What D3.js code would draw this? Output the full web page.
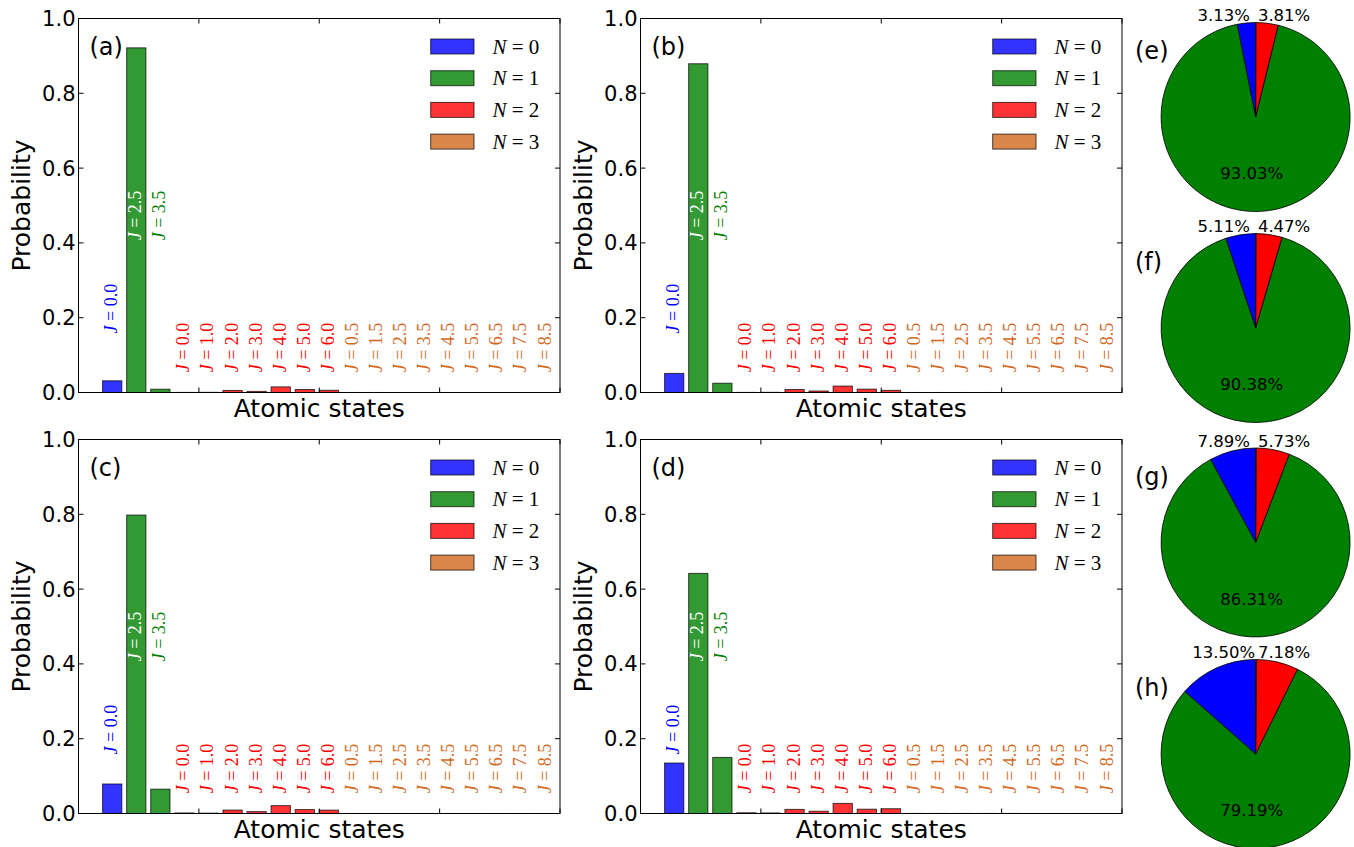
<!DOCTYPE html>
<html><head><meta charset="utf-8">
<script src="https://cdn.jsdelivr.net/npm/d3@7"></script>
<style>
html,body{margin:0;padding:0;background:#fff;}
svg{display:block;}
</style></head>
<body>
<svg id="chart" width="1354" height="847"></svg>
<script>
// ---------- DATA ----------
const jValues = ["0.0","2.5","3.5","0.0","1.0","2.0","3.0","4.0","5.0","6.0","0.5","1.5","2.5","3.5","4.5","5.5","6.5","7.5","8.5"];
const nGroup  = [0,1,1,2,2,2,2,2,2,2,3,3,3,3,3,3,3,3,3];
const legendLabels = ["0","1","2","3"];
const panelLetters = ["(a)","(b)","(c)","(d)"];
const pieLetters = ["(e)","(f)","(g)","(h)"];
const yTicks = [0.0,0.2,0.4,0.6,0.8,1.0];
const xTicks = [0,5,10,15,20];

const probA = [0.0313,0.9215,0.0088,0.0003,0.0005,0.0055,0.0030,0.0150,0.0080,0.0058,0.00005,0.00005,0.00004,0.00004,0.00003,0.00003,0.00002,0.00002,0.00002];
const probB = [0.0511,0.8790,0.0248,0.0003,0.0005,0.0080,0.0040,0.0172,0.0090,0.0057,0.00006,0.00006,0.00005,0.00005,0.00004,0.00004,0.00003,0.00003,0.00003];
const probC = [0.0789,0.7980,0.0651,0.0015,0.0010,0.0092,0.0050,0.0211,0.0105,0.0090,0.0001,0.0001,0.0001,0.0001,0.0001,0.00005,0.00005,0.00005,0.00005];
const probD = [0.1350,0.6420,0.1499,0.0020,0.0015,0.0110,0.0060,0.0270,0.0115,0.0128,0.0002,0.0002,0.0002,0.0002,0.0002,0.0001,0.0001,0.0001,0.0001];

const pieE = [3.13,93.03,3.81,0.03];
const pieF = [5.11,90.38,4.47,0.04];
const pieG = [7.89,86.31,5.73,0.07];
const pieH = [13.50,79.19,7.18,0.13];

// ---------- STYLE ----------
const barColors = ["#0000ff","#008000","#ff0000","#d2691e"];
const pieColors = ["#0000ff","#008000","#ff0000","#d2691e"];
const serif = "'Liberation Serif','DejaVu Serif',serif";
const sans = "'DejaVu Sans',sans-serif";

const svg = d3.select("#chart");

const panels = [
  {data:probA, x0:78.5, x1:560,  y0:18.5,  y1:392.5},
  {data:probB, x0:640.5,x1:1122, y0:18.5,  y1:392.5},
  {data:probC, x0:78.5, x1:560,  y0:439.5, y1:813.5},
  {data:probD, x0:640.5,x1:1122, y0:439.5, y1:813.5}
];
// label baseline heights per N group (in data units)
const labelLevel = [0.158, 0.407, 0.054, 0.054];

panels.forEach((p, pi) => {
  const g = svg.append("g");
  const x = d3.scaleLinear().domain([0,20]).range([p.x0, p.x1]);
  const y = d3.scaleLinear().domain([0,1]).range([p.y1, p.y0]);

  // bars
  g.selectAll("rect.bar").data(p.data).join("rect")
    .attr("class","bar")
    .attr("x",(d,i)=>x(i+1))
    .attr("width",(d,i)=>x(i+1.8)-x(i+1))
    .attr("y",d=>y(d))
    .attr("height",d=>y(0)-y(d))
    .attr("fill",(d,i)=>barColors[nGroup[i]])
    .attr("fill-opacity",0.8)
    .attr("stroke","#000").attr("stroke-opacity",0.7).attr("stroke-width",1);

  // J labels
  g.selectAll("text.jl").data(jValues).join("text")
    .attr("class","jl")
    .attr("transform",(d,i)=>`translate(${x(i+1.4)-1},${y(labelLevel[nGroup[i]])}) rotate(-90)`)
    .attr("dy","0.33em")
    .attr("font-family",serif).attr("font-size",18)
    .attr("fill",(d,i)=> i===1 ? "#ffffff" : barColors[nGroup[i]])
    .each(function(d){
      const t = d3.select(this);
      t.append("tspan").attr("font-style","italic").text("J");
      t.append("tspan").text(" = " + d);
    });

  // frame
  g.append("rect").attr("x",p.x0).attr("y",p.y0)
    .attr("width",p.x1-p.x0).attr("height",p.y1-p.y0)
    .attr("fill","none").attr("stroke","#000").attr("stroke-width",1);

  // y ticks (left/right, inward)
  const tl = 5;
  yTicks.forEach(v=>{
    g.append("line").attr("x1",p.x0).attr("x2",p.x0+tl).attr("y1",y(v)).attr("y2",y(v)).attr("stroke","#000");
    g.append("line").attr("x1",p.x1).attr("x2",p.x1-tl).attr("y1",y(v)).attr("y2",y(v)).attr("stroke","#000");
    g.append("text").attr("x",p.x0-3).attr("y",y(v)).attr("dy","0.36em")
      .attr("text-anchor","end").attr("font-family",sans).attr("font-size",21)
      .text(v.toFixed(1));
  });
  xTicks.forEach(v=>{
    g.append("line").attr("x1",x(v)).attr("x2",x(v)).attr("y1",p.y1).attr("y2",p.y1-tl).attr("stroke","#000");
    g.append("line").attr("x1",x(v)).attr("x2",x(v)).attr("y1",p.y0).attr("y2",p.y0+tl).attr("stroke","#000");
  });

  // axis labels
  g.append("text").attr("x",(p.x0+p.x1)/2).attr("y",p.y1+24)
    .attr("text-anchor","middle").attr("font-family",sans).attr("font-size",25)
    .text("Atomic states");
  g.append("text").attr("transform",`translate(${p.x0-49},${(p.y0+p.y1)/2}) rotate(-90)`)
    .attr("text-anchor","middle").attr("font-family",sans).attr("font-size",25)
    .text("Probability");

  // panel letter
  g.append("text").attr("x",p.x0+11).attr("y",p.y0+36)
    .attr("font-family",sans).attr("font-size",24).text(panelLetters[pi]);

  // legend
  const lg = g.append("g");
  legendLabels.forEach((n,k)=>{
    lg.append("rect").attr("x",p.x1-129.3).attr("y",p.y0+20.5+k*31.7)
      .attr("width",43.3).attr("height",15)
      .attr("fill",barColors[k]).attr("fill-opacity",0.8)
      .attr("stroke","#000").attr("stroke-opacity",0.7);
    const t = lg.append("text").attr("x",p.x1-67.5).attr("y",p.y0+35+k*31.7)
      .attr("font-family",serif).attr("font-size",21);
    t.append("tspan").attr("font-style","italic").text("N");
    t.append("tspan").text(" = " + n);
  });
});

// ---------- PIES ----------
const pies = [pieE, pieF, pieG, pieH];
const pieCY = [117, 328, 542.5, 754];
const pcx = 1255.6, pr = 94.5;
const pieGen = d3.pie().sort(null).startAngle(0).endAngle(-2*Math.PI);
const arc = d3.arc().innerRadius(0).outerRadius(pr);

pies.forEach((vals, k)=>{
  const cy = pieCY[k];
  const g = svg.append("g").attr("transform",`translate(${pcx},${cy})`);
  const arcs = pieGen(vals);
  g.selectAll("path").data(arcs).join("path")
    .attr("d",arc)
    .attr("fill",(d,i)=>pieColors[i])
    .attr("stroke","#000").attr("stroke-width",0.8);
  // green label inside, below centre
  g.append("text")
    .attr("x",-4)
    .attr("y",0.595*pr)
    .attr("dy","0.36em").attr("text-anchor","middle")
    .attr("font-family",sans).attr("font-size",16.5)
    .text(vals[1].toFixed(2)+"%");
  // blue and red labels above
  g.append("text").attr("x",-32).attr("y",-pr-1.5)
    .attr("text-anchor","middle").attr("font-family",sans).attr("font-size",16.5)
    .text(vals[0].toFixed(2)+"%");
  g.append("text").attr("x",28.5).attr("y",-pr-1.5)
    .attr("text-anchor","middle").attr("font-family",sans).attr("font-size",16.5)
    .text(vals[2].toFixed(2)+"%");
  // letter
  svg.append("text").attr("x",1135).attr("y",cy-58)
    .attr("font-family",sans).attr("font-size",24).text(pieLetters[k]);
});
</script>
</body></html>
